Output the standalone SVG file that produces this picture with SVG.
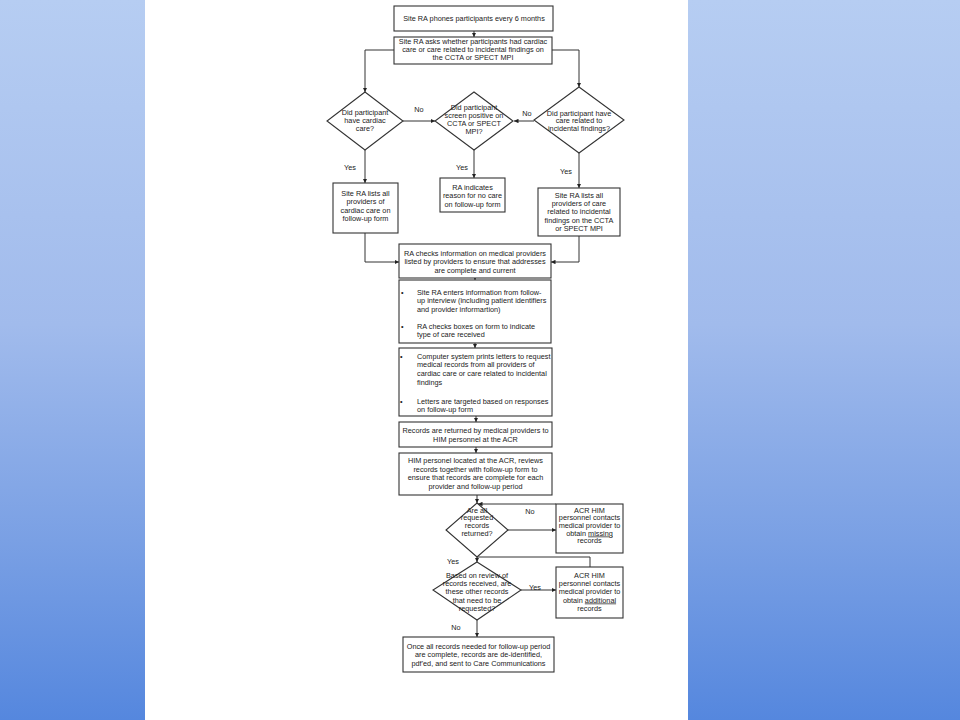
<svg xmlns="http://www.w3.org/2000/svg" width="960" height="720" viewBox="0 0 960 720">
<defs>
<linearGradient id="bg" x1="0" y1="0" x2="0" y2="1">
<stop offset="0" stop-color="#b6cdf2"/>
<stop offset="0.45" stop-color="#a1bbec"/>
<stop offset="0.75" stop-color="#7aa0e4"/>
<stop offset="1" stop-color="#5587de"/>
</linearGradient>
<marker id="ah" viewBox="0 0 10 10" refX="10" refY="5" markerWidth="4.5" markerHeight="4.5" orient="auto" markerUnits="userSpaceOnUse">
<path d="M0,0 L10,5 L0,10 z" fill="#222"/>
</marker>
<style>
.n{fill:#fff;stroke:#333;stroke-width:1.1}
.t{font-family:"Liberation Sans",Arial,sans-serif;font-size:7.3px;fill:#222;text-anchor:middle}
.l{font-family:"Liberation Sans",Arial,sans-serif;font-size:7.3px;fill:#222;text-anchor:start}
.c{fill:none;stroke:#333;stroke-width:1}
</style>
</defs>
<rect x="0" y="0" width="960" height="720" fill="url(#bg)"/>
<rect x="145" y="0" width="543" height="720" fill="#fff"/>

<g id="connectors">
<path class="c" d="M474,31 V37" marker-end="url(#ah)"/>
<path class="c" d="M394,50 H365 V92" marker-end="url(#ah)"/>
<path class="c" d="M552,50 H579 V87" marker-end="url(#ah)"/>
<path class="c" d="M403,121 H435" marker-end="url(#ah)"/>
<path class="c" d="M534,121 H514" marker-end="url(#ah)"/>
<path class="c" d="M365,150 V183" marker-end="url(#ah)"/>
<path class="c" d="M474,150 V178" marker-end="url(#ah)"/>
<path class="c" d="M579,153 V188" marker-end="url(#ah)"/>
<path class="c" d="M365,233 V262 H399" marker-end="url(#ah)"/>
<path class="c" d="M579,236 V262 H551" marker-end="url(#ah)"/>
<path class="c" d="M475,278 V280" marker-end="url(#ah)"/>
<path class="c" d="M475,343 V348" marker-end="url(#ah)"/>
<path class="c" d="M476,416 V422" marker-end="url(#ah)"/>
<path class="c" d="M476,447 V453" marker-end="url(#ah)"/>
<path class="c" d="M477,495 V503" marker-end="url(#ah)"/>
<path class="c" d="M508,530 H556" marker-end="url(#ah)"/>
<path class="c" d="M556,504 H478" marker-end="url(#ah)"/>
<path class="c" d="M477,557 V562" marker-end="url(#ah)"/>
<path class="c" d="M590,567 V557 H477"/>
<path class="c" d="M521,590 H556" marker-end="url(#ah)"/>
<path class="c" d="M477,620 V637" marker-end="url(#ah)"/>
<text class="t" x="419" y="111.5">No</text>
<text class="t" x="527" y="115.5">No</text>
<text class="t" x="350" y="169.5">Yes</text>
<text class="t" x="462" y="169.5">Yes</text>
<text class="t" x="566" y="173.5">Yes</text>
<text class="t" x="530" y="513.5">No</text>
<text class="t" x="453" y="563.5">Yes</text>
<text class="t" x="535" y="589.5">Yes</text>
<text class="t" x="456" y="629.5">No</text>
</g>

<g id="n1">
<rect class="n" x="394" y="6" width="159" height="25"/>
<text class="t" x="474" y="21">Site RA phones participants every 6 months</text>
</g>
<g id="n2">
<rect class="n" x="394" y="37" width="158" height="27"/>
<text class="t" x="473" y="43.5">Site RA asks whether participants had cardiac</text>
<text class="t" x="473" y="51.5">care or care related to incidental findings on</text>
<text class="t" x="473" y="59.5">the CCTA or SPECT MPI</text>
</g>
<g id="d1">
<polygon class="n" points="365,92 403,121 365,150 327,121"/>
<text class="t" x="365" y="114.5">Did participant</text>
<text class="t" x="365" y="122.5">have cardiac</text>
<text class="t" x="365" y="130.5">care?</text>
</g>
<g id="d2">
<polygon class="n" points="474,92 513,121 474,150 435,121"/>
<text class="t" x="474" y="109.5">Did participant</text>
<text class="t" x="474" y="117.7">screen positive on</text>
<text class="t" x="474" y="125.9">CCTA or SPECT</text>
<text class="t" x="474" y="134.1">MPI?</text>
</g>
<g id="d3">
<polygon class="n" points="579,87 624,120 579,153 534,120"/>
<text class="t" x="579" y="115.5">Did participant have</text>
<text class="t" x="579" y="123">care related to</text>
<text class="t" x="579" y="130.5">incidental findings?</text>
</g>
<g id="bL">
<rect class="n" x="333" y="183" width="65" height="50"/>
<text class="t" x="365.5" y="195.5">Site RA lists all</text>
<text class="t" x="365.5" y="204">providers of</text>
<text class="t" x="365.5" y="212.5">cardiac care on</text>
<text class="t" x="365.5" y="221">follow-up form</text>
</g>
<g id="bM">
<rect class="n" x="440" y="178" width="65" height="34"/>
<text class="t" x="472.5" y="189.5">RA indicates</text>
<text class="t" x="472.5" y="198">reason for no care</text>
<text class="t" x="472.5" y="206.5">on follow-up form</text>
</g>
<g id="bR">
<rect class="n" x="538" y="188" width="82" height="48"/>
<text class="t" x="579" y="197.5">Site RA lists all</text>
<text class="t" x="579" y="206">providers of care</text>
<text class="t" x="579" y="214">related to incidental</text>
<text class="t" x="579" y="222.5">findings on the CCTA</text>
<text class="t" x="579" y="231">or SPECT MPI</text>
</g>
<g id="n3">
<rect class="n" x="399" y="244" width="152" height="34"/>
<text class="t" x="475" y="255.5">RA checks information on medical providers</text>
<text class="t" x="475" y="264">listed by providers to ensure that addresses</text>
<text class="t" x="475" y="272.5">are complete and current</text>
</g>
<g id="n4">
<rect class="n" x="399" y="280" width="152" height="63"/>
<text class="l" x="401" y="294.5">•</text>
<text class="l" x="417" y="294.5">Site RA enters information from follow-</text>
<text class="l" x="417" y="303">up interview (including patient identifiers</text>
<text class="l" x="417" y="311.5">and provider informartion)</text>
<text class="l" x="401" y="328.5">•</text>
<text class="l" x="417" y="328.5">RA checks boxes on form to indicate</text>
<text class="l" x="417" y="337">type of care received</text>
</g>
<g id="n5">
<rect class="n" x="399" y="348" width="153" height="68"/>
<text class="l" x="400" y="358.5">•</text>
<text class="l" x="417" y="358.5">Computer system prints letters to request</text>
<text class="l" x="417" y="367">medical records from all providers of</text>
<text class="l" x="417" y="375.5">cardiac care or care related to incidental</text>
<text class="l" x="417" y="384.5">findings</text>
<text class="l" x="400" y="403.5">•</text>
<text class="l" x="417" y="403.5">Letters are targeted based on responses</text>
<text class="l" x="417" y="412">on follow-up form</text>
</g>
<g id="n6">
<rect class="n" x="399" y="422" width="153" height="25"/>
<text class="t" x="475.5" y="432.5">Records are returned by medical providers to</text>
<text class="t" x="475.5" y="441.5">HIM personnel at the ACR</text>
</g>
<g id="n7">
<rect class="n" x="399" y="453" width="153" height="42"/>
<text class="t" x="475.5" y="463">HIM personel located at the ACR, reviews</text>
<text class="t" x="475.5" y="471.5">records together with follow-up form to</text>
<text class="t" x="475.5" y="480">ensure that records are complete for each</text>
<text class="t" x="475.5" y="489">provider and follow-up period</text>
</g>
<g id="d4">
<polygon class="n" points="477,503 508,530 477,557 446,530"/>
<text class="t" x="477" y="512.5">Are all</text>
<text class="t" x="477" y="520">requested</text>
<text class="t" x="477" y="528">records</text>
<text class="t" x="477" y="535.5">returned?</text>
</g>
<g id="b8">
<rect class="n" x="556" y="504" width="67" height="49"/>
<text class="t" x="589.5" y="512.5">ACR HIM</text>
<text class="t" x="589.5" y="520">personnel contacts</text>
<text class="t" x="589.5" y="528">medical provider to</text>
<text class="t" x="589.5" y="535.5">obtain <tspan text-decoration="underline">missing</tspan></text>
<text class="t" x="589.5" y="543">records</text>
</g>
<g id="d5">
<polygon class="n" points="477,562 521,590 477,620 433,590"/>
<text class="t" x="477" y="577.5">Based on review of</text>
<text class="t" x="477" y="586">records received, are</text>
<text class="t" x="477" y="594">these other records</text>
<text class="t" x="477" y="602.5">that need to be</text>
<text class="t" x="477" y="610.5">requested?</text>
</g>
<g id="b9">
<rect class="n" x="556" y="567" width="67" height="51"/>
<text class="t" x="589.5" y="577.5">ACR HIM</text>
<text class="t" x="589.5" y="585.5">personnel contacts</text>
<text class="t" x="589.5" y="594">medical provider to</text>
<text class="t" x="589.5" y="602.5">obtain <tspan text-decoration="underline">additional</tspan></text>
<text class="t" x="589.5" y="610.5">records</text>
</g>
<g id="n10">
<rect class="n" x="403" y="637" width="151" height="35"/>
<text class="t" x="478.5" y="648.5">Once all records needed for follow-up period</text>
<text class="t" x="478.5" y="657">are complete, records are de-identified,</text>
<text class="t" x="478.5" y="665.5">pdf'ed, and sent to Care Communications</text>
</g>
</svg>
